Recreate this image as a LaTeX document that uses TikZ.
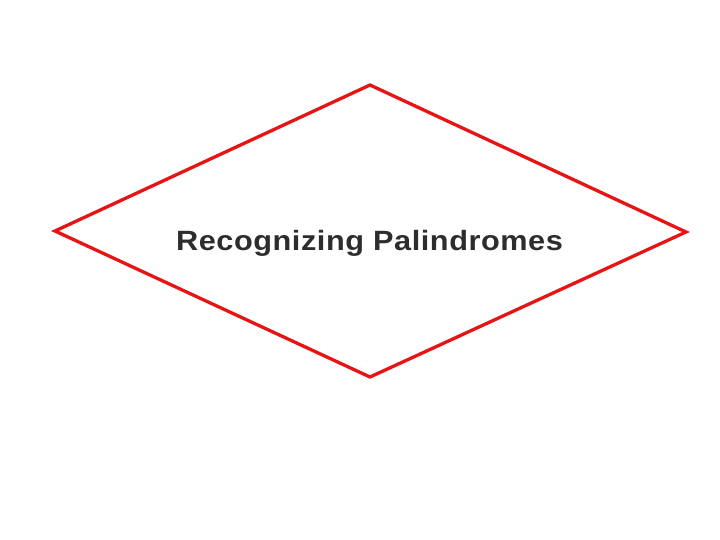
\documentclass[tikz,border=0pt]{standalone}
\usepackage{fontspec}
\setmainfont{Liberation Sans}
\newfontfamily\titlefont[FakeStretch=1.1,LetterSpace=2]{Liberation Sans}
\definecolor{edgered}{RGB}{230,20,20}
\definecolor{labelgray}{RGB}{45,45,45}
\begin{document}
\begin{tikzpicture}
  [x=1bp,y=-1bp,every node/.style={font=\titlefont\bfseries\fontsize{28}{34}\selectfont,text=labelgray}]
  \useasboundingbox (0,0) rectangle (720,540);
  \coordinate (left) at (55,231);
  \coordinate (top) at (370,85);
  \coordinate (right) at (686,232);
  \coordinate (bottom) at (370,377);
  \draw[edgered,line width=3.3bp,line join=miter] (left) -- (top) -- (right) -- (bottom) -- cycle;
  \node[anchor=base] (title) at (369.5,250.7) {Recognizing Palindromes};
\end{tikzpicture}
\end{document}
